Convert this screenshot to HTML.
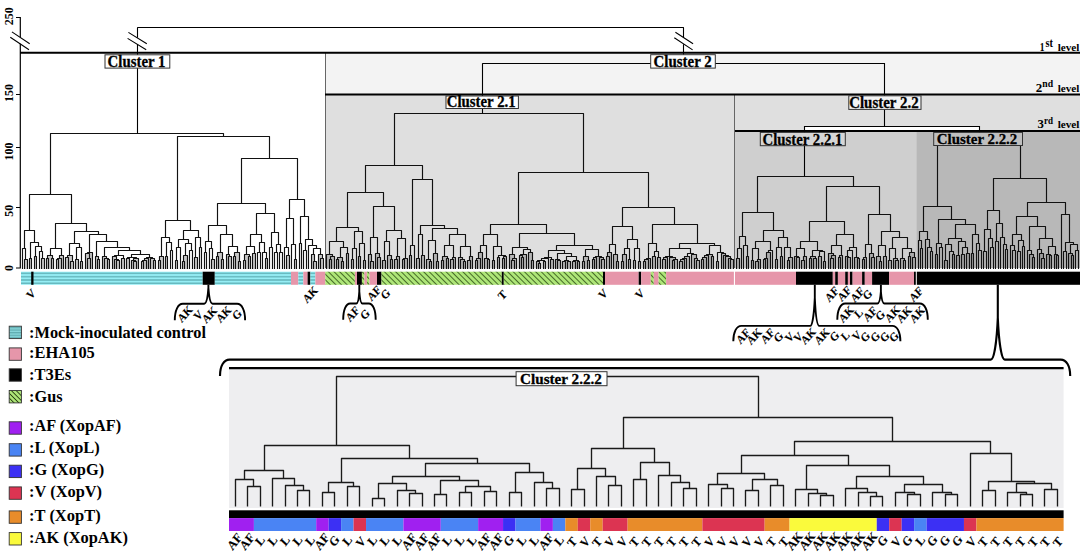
<!DOCTYPE html><html><head><meta charset="utf-8"><style>html,body{margin:0;padding:0;background:#fff;}svg{display:block;}text{font-family:"Liberation Serif",serif;} .s{stroke:#000;stroke-width:0.3px;} .t{stroke:#000;stroke-width:0.12px;}</style></head><body>
<svg width="1083" height="555" viewBox="0 0 1083 555">
<defs>
<pattern id="gus" patternUnits="userSpaceOnUse" width="3.96" height="3.96" patternTransform="rotate(-45)"><rect width="3.96" height="3.96" fill="#aee678"/><rect x="0" y="0" width="0.9" height="3.96" fill="#3a5e20"/></pattern>
<pattern id="mock" patternUnits="userSpaceOnUse" x="0" y="271.7" width="10" height="3.3"><rect width="10" height="3.3" fill="#96eef5"/><rect y="1.0" width="10" height="1.4" fill="#62b4ba"/></pattern>
<pattern id="gusL" patternUnits="userSpaceOnUse" width="3.4" height="3.4" patternTransform="rotate(-45)"><rect width="3.4" height="3.4" fill="#aee678"/><rect x="0" y="0" width="0.9" height="3.4" fill="#243a10"/></pattern>
<pattern id="mockL" patternUnits="userSpaceOnUse" x="0" y="326" width="10" height="2.6"><rect width="10" height="2.6" fill="#8ad8dc"/><rect y="1.0" width="10" height="1.1" fill="#5aa6aa"/></pattern>
</defs>
<rect width="1083" height="555" fill="#fff"/>
<rect x="325" y="53" width="755" height="215" fill="#f3f3f3"/>
<rect x="325" y="94.5" width="755" height="173.5" fill="#dfdfdf"/>
<rect x="735" y="131" width="181.5" height="137" fill="#cfcfcf"/>
<rect x="916.5" y="131" width="163.5" height="137" fill="#b8b8b8"/>
<path d="M325.5 53V268M734.5 94.5V268" stroke="#666" stroke-width="1" fill="none"/>
<rect x="229" y="368" width="834.6" height="140" fill="#eeeef0"/>
<path d="M24.5 259.5H27.5V268.9H24.5ZM29.5 258.5H31.5V268.9H29.5ZM34.5 256.5H36.5V268.9H34.5ZM41.5 258.5H44.5V268.9H41.5ZM46.5 258.5H48.5V268.9H46.5ZM51.5 258.5H53.5V268.9H51.5ZM47.5 255.5H52.5V268.9H47.5ZM56.5 259.5H58.5V268.9H56.5ZM57.5 258.5H61.5V268.9H57.5ZM59.5 255.5H63.5V268.9H59.5ZM65.5 257.5H68.5V268.9H65.5ZM70.5 261.5H73.5V268.9H70.5ZM67.5 255.5H72.5V268.9H67.5ZM75.5 259.5H78.5V268.9H75.5ZM80.5 261.5H82.5V268.9H80.5ZM87.5 258.5H90.5V268.9H87.5ZM85.5 253.5H89.5V268.9H85.5ZM87.5 252.5H92.5V268.9H87.5ZM97.5 259.5H99.5V268.9H97.5ZM95.5 256.5H98.5V268.9H95.5ZM107.5 259.5H109.5V268.9H107.5ZM104.5 258.5H108.5V268.9H104.5ZM102.5 256.5H106.5V268.9H102.5ZM116.5 260.5H119.5V268.9H116.5ZM114.5 259.5H118.5V268.9H114.5ZM112.5 256.5H116.5V268.9H112.5ZM121.5 258.5H124.5V268.9H121.5ZM126.5 258.5H129.5V268.9H126.5ZM133.5 261.5H136.5V268.9H133.5ZM131.5 260.5H135.5V268.9H131.5ZM133.5 258.5H138.5V268.9H133.5ZM141.5 261.5H143.5V268.9H141.5ZM142.5 260.5H146.5V268.9H142.5ZM144.5 258.5H148.5V268.9H144.5ZM153.5 260.5H155.5V268.9H153.5ZM150.5 258.5H154.5V268.9H150.5ZM146.5 257.5H152.5V268.9H146.5ZM158.5 260.5H160.5V268.9H158.5ZM159.5 256.5H163.5V268.9H159.5ZM165.5 256.5H167.5V268.9H165.5ZM175.5 260.5H177.5V268.9H175.5ZM182.5 261.5H184.5V268.9H182.5ZM183.5 255.5H187.5V268.9H183.5ZM194.5 257.5H197.5V268.9H194.5ZM211.5 259.5H214.5V268.9H211.5ZM216.5 256.5H218.5V268.9H216.5ZM221.5 259.5H223.5V268.9H221.5ZM217.5 252.5H222.5V268.9H217.5ZM228.5 256.5H231.5V268.9H228.5ZM226.5 254.5H229.5V268.9H226.5ZM233.5 256.5H235.5V268.9H233.5ZM238.5 261.5H240.5V268.9H238.5ZM234.5 252.5H239.5V268.9H234.5ZM243.5 260.5H245.5V268.9H243.5ZM248.5 256.5H250.5V268.9H248.5ZM244.5 254.5H249.5V268.9H244.5ZM252.5 253.5H255.5V268.9H252.5ZM265.5 258.5H267.5V268.9H265.5ZM286.5 255.5H289.5V268.9H286.5ZM294.5 259.5H296.5V268.9H294.5ZM313.5 261.5H316.5V268.9H313.5ZM311.5 254.5H314.5V268.9H311.5ZM320.5 258.5H323.5V268.9H320.5ZM318.5 254.5H322.5V268.9H318.5ZM329.5 259.5H331.5V268.9H329.5ZM330.5 256.5H334.5V268.9H330.5ZM326.5 254.5H332.5V268.9H326.5ZM336.5 259.5H338.5V268.9H336.5ZM341.5 261.5H343.5V268.9H341.5ZM337.5 257.5H342.5V268.9H337.5ZM346.5 253.5H348.5V268.9H346.5ZM351.5 259.5H353.5V268.9H351.5ZM358.5 256.5H360.5V268.9H358.5ZM363.5 260.5H365.5V268.9H363.5ZM370.5 261.5H373.5V268.9H370.5ZM368.5 254.5H371.5V268.9H368.5ZM377.5 257.5H380.5V268.9H377.5ZM375.5 253.5H379.5V268.9H375.5ZM382.5 260.5H385.5V268.9H382.5ZM390.5 259.5H392.5V268.9H390.5ZM387.5 255.5H391.5V268.9H387.5ZM394.5 259.5H397.5V268.9H394.5ZM396.5 256.5H399.5V268.9H396.5ZM402.5 259.5H404.5V268.9H402.5ZM403.5 258.5H407.5V268.9H403.5ZM409.5 255.5H411.5V268.9H409.5ZM416.5 258.5H419.5V268.9H416.5ZM421.5 255.5H424.5V268.9H421.5ZM429.5 261.5H431.5V268.9H429.5ZM426.5 259.5H430.5V268.9H426.5ZM436.5 261.5H438.5V268.9H436.5ZM433.5 253.5H437.5V268.9H433.5ZM441.5 260.5H443.5V268.9H441.5ZM446.5 258.5H448.5V268.9H446.5ZM442.5 256.5H447.5V268.9H442.5ZM450.5 259.5H453.5V268.9H450.5ZM452.5 257.5H455.5V268.9H452.5ZM463.5 261.5H465.5V268.9H463.5ZM460.5 259.5H464.5V268.9H460.5ZM458.5 257.5H462.5V268.9H458.5ZM467.5 260.5H470.5V268.9H467.5ZM469.5 256.5H472.5V268.9H469.5ZM475.5 260.5H477.5V268.9H475.5ZM476.5 258.5H480.5V268.9H476.5ZM478.5 252.5H482.5V268.9H478.5ZM487.5 259.5H489.5V268.9H487.5ZM484.5 258.5H488.5V268.9H484.5ZM492.5 260.5H494.5V268.9H492.5ZM497.5 257.5H499.5V268.9H497.5ZM502.5 258.5H504.5V268.9H502.5ZM503.5 256.5H506.5V268.9H503.5ZM511.5 260.5H514.5V268.9H511.5ZM512.5 258.5H516.5V268.9H512.5ZM509.5 254.5H514.5V268.9H509.5ZM521.5 257.5H523.5V268.9H521.5ZM519.5 255.5H522.5V268.9H519.5ZM520.5 254.5H526.5V268.9H520.5ZM531.5 260.5H533.5V268.9H531.5ZM528.5 252.5H532.5V268.9H528.5ZM538.5 263.5H540.5V268.9H538.5ZM536.5 261.5H539.5V268.9H536.5ZM543.5 261.5H545.5V268.9H543.5ZM550.5 259.5H553.5V268.9H550.5ZM557.5 260.5H560.5V268.9H557.5ZM555.5 259.5H559.5V268.9H555.5ZM562.5 261.5H565.5V268.9H562.5ZM567.5 261.5H570.5V268.9H567.5ZM564.5 260.5H568.5V268.9H564.5ZM572.5 261.5H575.5V268.9H572.5ZM577.5 261.5H579.5V268.9H577.5ZM573.5 260.5H578.5V268.9H573.5ZM582.5 261.5H584.5V268.9H582.5ZM587.5 260.5H589.5V268.9H587.5ZM583.5 256.5H588.5V268.9H583.5ZM592.5 259.5H594.5V268.9H592.5ZM593.5 257.5H596.5V268.9H593.5ZM601.5 259.5H604.5V268.9H601.5ZM599.5 257.5H603.5V268.9H599.5ZM595.5 256.5H601.5V268.9H595.5ZM606.5 256.5H609.5V268.9H606.5ZM607.5 252.5H611.5V268.9H607.5ZM616.5 261.5H618.5V268.9H616.5ZM613.5 254.5H617.5V268.9H613.5ZM621.5 261.5H623.5V268.9H621.5ZM622.5 254.5H626.5V268.9H622.5ZM628.5 259.5H630.5V268.9H628.5ZM633.5 260.5H635.5V268.9H633.5ZM638.5 261.5H640.5V268.9H638.5ZM643.5 261.5H645.5V268.9H643.5ZM644.5 259.5H648.5V268.9H644.5ZM646.5 258.5H650.5V268.9H646.5ZM652.5 256.5H655.5V268.9H652.5ZM657.5 257.5H660.5V268.9H657.5ZM662.5 259.5H665.5V268.9H662.5ZM663.5 257.5H667.5V268.9H663.5ZM672.5 260.5H674.5V268.9H672.5ZM673.5 259.5H677.5V268.9H673.5ZM669.5 257.5H675.5V268.9H669.5ZM679.5 261.5H682.5V268.9H679.5ZM680.5 259.5H684.5V268.9H680.5ZM682.5 258.5H686.5V268.9H682.5ZM684.5 256.5H689.5V268.9H684.5ZM696.5 260.5H699.5V268.9H696.5ZM694.5 258.5H697.5V268.9H694.5ZM691.5 254.5H696.5V268.9H691.5ZM701.5 259.5H703.5V268.9H701.5ZM702.5 257.5H706.5V268.9H702.5ZM704.5 255.5H708.5V268.9H704.5ZM711.5 256.5H713.5V268.9H711.5ZM706.5 254.5H712.5V268.9H706.5ZM716.5 261.5H718.5V268.9H716.5ZM730.5 259.5H733.5V268.9H730.5ZM728.5 258.5H731.5V268.9H728.5ZM725.5 256.5H730.5V268.9H725.5ZM723.5 255.5H728.5V268.9H723.5ZM721.5 253.5H725.5V268.9H721.5ZM736.5 258.5H739.5V268.9H736.5ZM746.5 256.5H748.5V268.9H746.5ZM751.5 260.5H753.5V268.9H751.5ZM755.5 261.5H758.5V268.9H755.5ZM757.5 259.5H760.5V268.9H757.5ZM763.5 259.5H765.5V268.9H763.5ZM764.5 258.5H767.5V268.9H764.5ZM766.5 252.5H770.5V268.9H766.5ZM775.5 259.5H777.5V268.9H775.5ZM780.5 256.5H782.5V268.9H780.5ZM787.5 260.5H789.5V268.9H787.5ZM788.5 257.5H792.5V268.9H788.5ZM796.5 257.5H799.5V268.9H796.5ZM794.5 256.5H798.5V268.9H794.5ZM801.5 260.5H804.5V268.9H801.5ZM803.5 256.5H806.5V268.9H803.5ZM809.5 258.5H811.5V268.9H809.5ZM813.5 258.5H816.5V268.9H813.5ZM810.5 256.5H815.5V268.9H810.5ZM818.5 256.5H821.5V268.9H818.5ZM823.5 261.5H825.5V268.9H823.5ZM830.5 258.5H833.5V268.9H830.5ZM831.5 255.5H835.5V268.9H831.5ZM828.5 253.5H833.5V268.9H828.5ZM838.5 257.5H840.5V268.9H838.5ZM839.5 255.5H842.5V268.9H839.5ZM847.5 257.5H850.5V268.9H847.5ZM845.5 256.5H848.5V268.9H845.5ZM857.5 258.5H859.5V268.9H857.5ZM854.5 257.5H858.5V268.9H854.5ZM862.5 259.5H864.5V268.9H862.5ZM863.5 257.5H866.5V268.9H863.5ZM871.5 257.5H874.5V268.9H871.5ZM869.5 253.5H873.5V268.9H869.5ZM879.5 261.5H881.5V268.9H879.5ZM876.5 256.5H880.5V268.9H876.5ZM883.5 256.5H886.5V268.9H883.5ZM888.5 260.5H891.5V268.9H888.5ZM895.5 260.5H898.5V268.9H895.5ZM893.5 258.5H897.5V268.9H893.5ZM903.5 260.5H905.5V268.9H903.5ZM900.5 258.5H904.5V268.9H900.5ZM908.5 256.5H910.5V268.9H908.5ZM912.5 257.5H915.5V268.9H912.5ZM909.5 252.5H914.5V268.9H909.5ZM935.5 254.5H937.5V268.9H935.5ZM944.5 260.5H947.5V268.9H944.5ZM952.5 254.5H954.5V268.9H952.5ZM956.5 255.5H959.5V268.9H956.5ZM961.5 254.5H964.5V268.9H961.5ZM966.5 253.5H969.5V268.9H966.5ZM971.5 253.5H973.5V268.9H971.5ZM1032.5 257.5H1034.5V268.9H1032.5ZM1029.5 254.5H1033.5V268.9H1029.5ZM1041.5 258.5H1044.5V268.9H1041.5ZM1039.5 253.5H1043.5V268.9H1039.5ZM1049.5 255.5H1051.5V268.9H1049.5ZM1046.5 254.5H1050.5V268.9H1046.5ZM1056.5 255.5H1058.5V268.9H1056.5ZM1054.5 254.5H1057.5V268.9H1054.5ZM1071.5 255.5H1073.5V268.9H1071.5ZM1068.5 253.5H1072.5V268.9H1068.5Z" fill="#777" fill-opacity="0.4"/>
<rect x="804.8" y="126" width="174.2" height="4" fill="#fff"/>
<path d="M24.5 268.9V259.5H27.5V268.9M22.5 268.9V248.5H25.5V259.1M29.5 268.9V258.5H31.5V268.9M34.5 268.9V256.5H36.5V268.9M41.5 268.9V258.5H44.5V268.9M39.5 268.9V251.5H42.5V259.0M35.5 256.6V246.5H41.5V251.0M30.5 258.3V242.5H38.5V246.5M24.5 248.5V230.5H34.5V242.7M46.5 268.9V258.5H48.5V268.9M51.5 268.9V258.5H53.5V268.9M47.5 258.7V255.5H52.5V258.3M56.5 268.9V259.5H58.5V268.9M57.5 259.7V258.5H61.5V268.9M59.5 258.2V255.5H63.5V268.9M50.5 255.0V248.5H61.5V255.0M65.5 268.9V257.5H68.5V268.9M70.5 268.9V261.5H73.5V268.9M67.5 257.1V255.5H72.5V261.1M75.5 268.9V259.5H78.5V268.9M80.5 268.9V261.5H82.5V268.9M76.5 259.9V247.5H81.5V261.2M69.5 255.3V243.5H79.5V247.2M87.5 268.9V258.5H90.5V268.9M85.5 268.9V253.5H89.5V258.2M87.5 253.6V252.5H92.5V268.9M97.5 268.9V259.5H99.5V268.9M95.5 268.9V256.5H98.5V259.0M107.5 268.9V259.5H109.5V268.9M104.5 268.9V258.5H108.5V259.5M102.5 268.9V256.5H106.5V258.0M116.5 268.9V260.5H119.5V268.9M114.5 268.9V259.5H118.5V260.7M112.5 268.9V256.5H116.5V259.2M121.5 268.9V258.5H124.5V268.9M114.5 256.5V255.5H123.5V258.2M126.5 268.9V258.5H129.5V268.9M133.5 268.9V261.5H136.5V268.9M131.5 268.9V260.5H135.5V261.5M133.5 260.0V258.5H138.5V268.9M127.5 258.5V257.5H136.5V258.5M141.5 268.9V261.5H143.5V268.9M142.5 261.5V260.5H146.5V268.9M144.5 260.0V258.5H148.5V268.9M153.5 268.9V260.5H155.5V268.9M150.5 268.9V258.5H154.5V260.0M146.5 258.5V257.5H152.5V258.5M131.5 257.0V254.5H149.5V257.0M118.5 255.0V250.5H140.5V254.3M104.5 256.5V247.5H129.5V250.4M96.5 256.1V241.5H117.5V247.6M89.5 252.1V234.5H106.5V241.1M74.5 243.7V231.5H98.5V234.6M55.5 248.5V223.5H86.5V231.4M29.5 230.0V194.5H71.5V223.3M158.5 268.9V260.5H160.5V268.9M159.5 260.4V256.5H163.5V268.9M165.5 268.9V256.5H167.5V268.9M170.5 268.9V250.5H172.5V268.9M166.5 256.2V242.5H171.5V250.4M161.5 256.6V237.5H169.5V242.9M175.5 268.9V260.5H177.5V268.9M176.5 260.0V247.5H180.5V268.9M182.5 268.9V261.5H184.5V268.9M183.5 261.3V255.5H187.5V268.9M189.5 268.9V250.5H192.5V268.9M185.5 255.0V243.5H191.5V250.2M178.5 247.8V239.5H188.5V243.6M194.5 268.9V257.5H197.5V268.9M199.5 268.9V247.5H201.5V268.9M195.5 257.4V237.5H200.5V247.2M183.5 239.4V230.5H198.5V237.2M165.5 237.7V220.5H190.5V230.6M204.5 268.9V252.5H206.5V268.9M211.5 268.9V259.5H214.5V268.9M209.5 268.9V248.5H212.5V259.4M205.5 252.0V241.5H211.5V248.1M216.5 268.9V256.5H218.5V268.9M221.5 268.9V259.5H223.5V268.9M217.5 256.7V252.5H222.5V259.4M228.5 268.9V256.5H231.5V268.9M226.5 268.9V254.5H229.5V256.1M233.5 268.9V256.5H235.5V268.9M238.5 268.9V261.5H240.5V268.9M234.5 256.7V252.5H239.5V261.7M228.5 254.3V246.5H237.5V252.7M220.5 252.7V234.5H232.5V246.3M208.5 241.1V225.5H226.5V234.6M243.5 268.9V260.5H245.5V268.9M248.5 268.9V256.5H250.5V268.9M244.5 260.5V254.5H249.5V256.4M252.5 268.9V253.5H255.5V268.9M246.5 254.0V246.5H254.5V253.0M257.5 268.9V252.5H260.5V268.9M265.5 268.9V258.5H267.5V268.9M262.5 268.9V252.5H266.5V259.0M259.5 252.0V242.5H264.5V252.0M250.5 246.5V234.5H261.5V242.0M269.5 268.9V247.5H272.5V268.9M274.5 268.9V252.5H277.5V268.9M279.5 268.9V252.5H282.5V268.9M276.5 252.0V244.5H280.5V252.0M271.5 247.8V232.5H278.5V244.6M256.5 234.9V213.5H274.5V232.3M217.5 225.5V203.5H265.5V213.3M286.5 268.9V255.5H289.5V268.9M284.5 268.9V247.5H288.5V256.0M294.5 268.9V259.5H296.5V268.9M291.5 268.9V244.5H295.5V259.4M286.5 247.8V218.5H293.5V244.6M299.5 268.9V243.5H301.5V268.9M303.5 268.9V250.5H306.5V268.9M313.5 268.9V261.5H316.5V268.9M311.5 268.9V254.5H314.5V261.3M320.5 268.9V258.5H323.5V268.9M318.5 268.9V254.5H322.5V258.0M313.5 254.0V248.5H320.5V254.3M308.5 268.9V245.5H316.5V248.5M305.5 250.0V239.5H312.5V245.5M300.5 243.3V216.5H308.5V239.4M289.5 218.7V199.5H304.5V216.2M241.5 203.6V158.5H297.5V199.7M177.5 220.4V136.5H269.5V158.6M50.5 194.4V133.5H223.5V136.6M329.5 268.9V259.5H331.5V268.9M330.5 259.7V256.5H334.5V268.9M326.5 268.9V254.5H332.5V256.4M336.5 268.9V259.5H338.5V268.9M341.5 268.9V261.5H343.5V268.9M337.5 259.9V257.5H342.5V261.6M346.5 268.9V253.5H348.5V268.9M340.5 257.8V247.5H347.5V253.0M329.5 254.9V241.5H343.5V247.8M351.5 268.9V259.5H353.5V268.9M352.5 259.3V248.5H356.5V268.9M358.5 268.9V256.5H360.5V268.9M363.5 268.9V260.5H365.5V268.9M359.5 256.3V243.5H364.5V260.9M354.5 248.5V231.5H362.5V243.3M336.5 241.6V227.5H358.5V231.3M370.5 268.9V261.5H373.5V268.9M368.5 268.9V254.5H371.5V261.3M377.5 268.9V257.5H380.5V268.9M375.5 268.9V253.5H379.5V257.7M370.5 254.2V237.5H377.5V253.5M382.5 268.9V260.5H385.5V268.9M390.5 268.9V259.5H392.5V268.9M387.5 268.9V255.5H391.5V259.2M384.5 260.6V241.5H389.5V255.7M394.5 268.9V259.5H397.5V268.9M396.5 259.2V256.5H399.5V268.9M402.5 268.9V259.5H404.5V268.9M403.5 259.5V258.5H407.5V268.9M397.5 256.7V238.5H405.5V258.0M386.5 241.6V230.5H401.5V238.8M373.5 237.5V206.5H394.5V230.0M347.5 227.1V192.5H383.5V206.6M409.5 268.9V255.5H411.5V268.9M410.5 256.0V245.5H414.5V268.9M416.5 268.9V258.5H419.5V268.9M421.5 268.9V255.5H424.5V268.9M418.5 258.2V234.5H422.5V255.9M429.5 268.9V261.5H431.5V268.9M426.5 268.9V259.5H430.5V261.0M436.5 268.9V261.5H438.5V268.9M433.5 268.9V253.5H437.5V261.5M428.5 259.5V240.5H435.5V253.0M441.5 268.9V260.5H443.5V268.9M446.5 268.9V258.5H448.5V268.9M442.5 260.2V256.5H447.5V258.4M450.5 268.9V259.5H453.5V268.9M452.5 259.4V257.5H455.5V268.9M444.5 256.9V245.5H453.5V257.1M463.5 268.9V261.5H465.5V268.9M460.5 268.9V259.5H464.5V261.6M458.5 268.9V257.5H462.5V259.0M467.5 268.9V260.5H470.5V268.9M469.5 261.0V256.5H472.5V268.9M460.5 257.5V246.5H470.5V256.8M449.5 245.0V234.5H465.5V246.0M432.5 240.0V228.5H457.5V234.8M420.5 234.8V225.5H444.5V228.7M412.5 245.5V179.5H432.5V225.0M365.5 192.5V165.5H422.5V179.7M475.5 268.9V260.5H477.5V268.9M476.5 260.6V258.5H480.5V268.9M478.5 258.6V252.5H482.5V268.9M487.5 268.9V259.5H489.5V268.9M484.5 268.9V258.5H488.5V260.0M480.5 252.9V245.5H486.5V258.5M492.5 268.9V260.5H494.5V268.9M497.5 268.9V257.5H499.5V268.9M502.5 268.9V258.5H504.5V268.9M503.5 258.2V256.5H506.5V268.9M498.5 257.7V255.5H505.5V256.6M493.5 260.2V246.5H501.5V255.1M483.5 245.0V234.5H497.5V246.0M511.5 268.9V260.5H514.5V268.9M512.5 260.3V258.5H516.5V268.9M509.5 268.9V254.5H514.5V258.8M521.5 268.9V257.5H523.5V268.9M519.5 268.9V255.5H522.5V257.4M520.5 255.9V254.5H526.5V268.9M531.5 268.9V260.5H533.5V268.9M528.5 268.9V252.5H532.5V260.4M523.5 254.4V249.5H530.5V252.1M512.5 254.4V247.5H527.5V249.0M538.5 268.9V263.5H540.5V268.9M536.5 268.9V261.5H539.5V263.0M543.5 268.9V261.5H545.5V268.9M537.5 261.5V260.5H544.5V261.5M541.5 260.0V258.5H548.5V268.9M550.5 268.9V259.5H553.5V268.9M544.5 258.5V257.5H551.5V259.3M557.5 268.9V260.5H560.5V268.9M555.5 268.9V259.5H559.5V260.5M562.5 268.9V261.5H565.5V268.9M567.5 268.9V261.5H570.5V268.9M564.5 261.5V260.5H568.5V261.5M572.5 268.9V261.5H575.5V268.9M577.5 268.9V261.5H579.5V268.9M573.5 261.5V260.5H578.5V261.5M566.5 260.0V256.5H576.5V260.0M557.5 259.0V253.5H571.5V256.0M548.5 257.0V250.5H564.5V253.8M582.5 268.9V261.5H584.5V268.9M587.5 268.9V260.5H589.5V268.9M583.5 261.2V256.5H588.5V260.9M592.5 268.9V259.5H594.5V268.9M593.5 259.0V257.5H596.5V268.9M601.5 268.9V259.5H604.5V268.9M599.5 268.9V257.5H603.5V259.0M595.5 257.5V256.5H601.5V257.5M585.5 256.0V249.5H598.5V256.0M556.5 250.8V245.5H592.5V249.4M519.5 247.5V233.5H574.5V245.4M490.5 234.8V224.5H546.5V233.1M606.5 268.9V256.5H609.5V268.9M607.5 256.4V252.5H611.5V268.9M616.5 268.9V261.5H618.5V268.9M613.5 268.9V254.5H617.5V261.6M609.5 252.5V244.5H615.5V254.2M621.5 268.9V261.5H623.5V268.9M622.5 261.3V254.5H626.5V268.9M628.5 268.9V259.5H630.5V268.9M624.5 254.7V248.5H629.5V259.9M633.5 268.9V260.5H635.5V268.9M638.5 268.9V261.5H640.5V268.9M634.5 260.9V248.5H639.5V261.3M627.5 248.0V239.5H637.5V248.0M612.5 244.5V226.5H632.5V239.3M643.5 268.9V261.5H645.5V268.9M644.5 261.0V259.5H648.5V268.9M646.5 259.5V258.5H650.5V268.9M652.5 268.9V256.5H655.5V268.9M657.5 268.9V257.5H660.5V268.9M654.5 256.4V251.5H658.5V257.4M648.5 258.0V243.5H656.5V251.0M662.5 268.9V259.5H665.5V268.9M663.5 259.6V257.5H667.5V268.9M672.5 268.9V260.5H674.5V268.9M673.5 260.5V259.5H677.5V268.9M669.5 268.9V257.5H675.5V259.0M665.5 257.5V256.5H672.5V257.5M679.5 268.9V261.5H682.5V268.9M680.5 261.3V259.5H684.5V268.9M682.5 259.8V258.5H686.5V268.9M684.5 258.3V256.5H689.5V268.9M696.5 268.9V260.5H699.5V268.9M694.5 268.9V258.5H697.5V260.5M691.5 268.9V254.5H696.5V259.0M687.5 256.8V253.5H693.5V254.5M669.5 256.0V248.5H690.5V253.0M701.5 268.9V259.5H703.5V268.9M702.5 259.1V257.5H706.5V268.9M704.5 257.1V255.5H708.5V268.9M711.5 268.9V256.5H713.5V268.9M706.5 255.5V254.5H712.5V256.8M716.5 268.9V261.5H718.5V268.9M730.5 268.9V259.5H733.5V268.9M728.5 268.9V258.5H731.5V259.5M725.5 268.9V256.5H730.5V258.0M723.5 268.9V255.5H728.5V256.5M721.5 268.9V253.5H725.5V255.0M717.5 261.2V252.5H723.5V253.5M709.5 254.0V245.5H720.5V252.0M679.5 248.4V243.5H714.5V245.3M652.5 243.2V224.5H697.5V243.2M622.5 226.1V207.5H674.5V224.9M518.5 224.6V172.5H648.5V207.1M394.5 165.0V113.5H583.5V172.5M736.5 268.9V258.5H739.5V268.9M737.5 258.1V248.5H741.5V268.9M746.5 268.9V256.5H748.5V268.9M743.5 268.9V245.5H747.5V256.3M739.5 248.0V236.5H745.5V245.0M751.5 268.9V260.5H753.5V268.9M755.5 268.9V261.5H758.5V268.9M757.5 261.1V259.5H760.5V268.9M752.5 260.2V248.5H758.5V259.6M763.5 268.9V259.5H765.5V268.9M764.5 259.8V258.5H767.5V268.9M766.5 258.3V252.5H770.5V268.9M768.5 252.6V250.5H772.5V268.9M755.5 248.0V241.5H770.5V250.0M775.5 268.9V259.5H777.5V268.9M780.5 268.9V256.5H782.5V268.9M776.5 259.1V247.5H781.5V256.5M787.5 268.9V260.5H789.5V268.9M788.5 260.5V257.5H792.5V268.9M784.5 268.9V247.5H790.5V257.1M778.5 247.0V237.5H787.5V247.0M763.5 241.6V230.5H783.5V237.0M742.5 236.2V212.5H773.5V230.8M796.5 268.9V257.5H799.5V268.9M794.5 268.9V256.5H798.5V257.8M801.5 268.9V260.5H804.5V268.9M803.5 260.5V256.5H806.5V268.9M796.5 256.3V248.5H804.5V256.7M809.5 268.9V258.5H811.5V268.9M813.5 268.9V258.5H816.5V268.9M810.5 258.5V256.5H815.5V258.5M818.5 268.9V256.5H821.5V268.9M823.5 268.9V261.5H825.5V268.9M819.5 256.9V251.5H824.5V261.0M812.5 257.0V250.5H822.5V251.7M800.5 248.0V241.5H817.5V250.0M830.5 268.9V258.5H833.5V268.9M831.5 258.0V255.5H835.5V268.9M828.5 268.9V253.5H833.5V255.4M838.5 268.9V257.5H840.5V268.9M839.5 257.5V255.5H842.5V268.9M831.5 253.9V245.5H841.5V255.8M847.5 268.9V257.5H850.5V268.9M845.5 268.9V256.5H848.5V257.6M847.5 256.1V250.5H852.5V268.9M857.5 268.9V258.5H859.5V268.9M854.5 268.9V257.5H858.5V259.0M849.5 250.5V247.5H856.5V257.5M836.5 245.0V234.5H853.5V247.0M809.5 241.1V221.5H844.5V234.0M862.5 268.9V259.5H864.5V268.9M863.5 259.9V257.5H866.5V268.9M871.5 268.9V257.5H874.5V268.9M869.5 268.9V253.5H873.5V258.0M865.5 257.5V244.5H871.5V253.5M879.5 268.9V261.5H881.5V268.9M876.5 268.9V256.5H880.5V261.6M883.5 268.9V256.5H886.5V268.9M878.5 256.5V245.5H885.5V256.8M888.5 268.9V260.5H891.5V268.9M895.5 268.9V260.5H898.5V268.9M893.5 268.9V258.5H897.5V260.1M889.5 260.3V248.5H895.5V258.6M903.5 268.9V260.5H905.5V268.9M900.5 268.9V258.5H904.5V260.3M908.5 268.9V256.5H910.5V268.9M912.5 268.9V257.5H915.5V268.9M909.5 256.1V252.5H914.5V257.7M902.5 258.8V248.5H911.5V252.2M892.5 248.0V237.5H907.5V248.0M881.5 245.0V231.5H899.5V237.0M868.5 244.3V214.5H890.5V231.6M826.5 221.9V186.5H879.5V214.6M757.5 212.7V176.5H853.5V186.8M920.5 268.9V248.5H922.5V268.9M918.5 268.9V240.5H921.5V248.3M930.5 268.9V251.5H932.5V268.9M927.5 268.9V247.5H931.5V251.9M925.5 268.9V239.5H929.5V247.2M919.5 240.4V231.5H927.5V239.8M935.5 268.9V254.5H937.5V268.9M939.5 268.9V247.5H942.5V268.9M936.5 254.0V243.5H941.5V247.9M944.5 268.9V260.5H947.5V268.9M952.5 268.9V254.5H954.5V268.9M949.5 268.9V251.5H953.5V254.7M945.5 260.0V244.5H951.5V251.5M956.5 268.9V255.5H959.5V268.9M961.5 268.9V254.5H964.5V268.9M966.5 268.9V253.5H969.5V268.9M962.5 254.2V247.5H967.5V253.2M958.5 255.7V241.5H965.5V247.9M948.5 244.5V238.5H961.5V241.9M971.5 268.9V253.5H973.5V268.9M978.5 268.9V250.5H981.5V268.9M976.5 268.9V243.5H979.5V250.0M972.5 253.6V234.5H978.5V243.4M955.5 238.3V224.5H975.5V234.1M938.5 243.6V219.5H965.5V224.9M923.5 231.9V206.5H951.5V219.6M983.5 268.9V251.5H986.5V268.9M990.5 268.9V247.5H993.5V268.9M988.5 268.9V238.5H992.5V247.3M984.5 251.1V229.5H990.5V238.3M995.5 268.9V241.5H998.5V268.9M1005.5 268.9V249.5H1007.5V268.9M1003.5 268.9V244.5H1006.5V249.8M1000.5 268.9V237.5H1004.5V244.0M996.5 241.0V223.5H1002.5V237.1M987.5 229.5V210.5H999.5V223.7M1012.5 268.9V250.5H1015.5V268.9M1010.5 268.9V245.5H1014.5V250.3M1017.5 268.9V251.5H1020.5V268.9M1022.5 268.9V246.5H1024.5V268.9M1018.5 251.4V240.5H1023.5V246.4M1012.5 245.7V234.5H1021.5V240.4M1032.5 268.9V257.5H1034.5V268.9M1029.5 268.9V254.5H1033.5V257.1M1027.5 268.9V250.5H1031.5V254.6M1041.5 268.9V258.5H1044.5V268.9M1039.5 268.9V253.5H1043.5V258.2M1037.5 268.9V249.5H1041.5V253.8M1049.5 268.9V255.5H1051.5V268.9M1046.5 268.9V254.5H1050.5V255.4M1056.5 268.9V255.5H1058.5V268.9M1054.5 268.9V254.5H1057.5V255.9M1048.5 254.2V246.5H1055.5V254.2M1039.5 249.6V238.5H1052.5V246.3M1029.5 250.4V226.5H1045.5V238.0M1016.5 234.6V216.5H1037.5V226.7M1063.5 268.9V251.5H1066.5V268.9M1071.5 268.9V255.5H1073.5V268.9M1068.5 268.9V253.5H1072.5V255.6M1075.5 268.9V250.5H1078.5V268.9M1070.5 253.7V244.5H1077.5V250.9M1065.5 251.4V242.5H1073.5V244.9M1061.5 268.9V214.5H1069.5V242.5M1027.5 216.7V202.5H1065.5V214.5M993.5 210.3V178.5H1046.5V202.5M937.5 206.9V138.5H1020.5V178.9" stroke="#111" stroke-width="1.15" fill="none" stroke-linejoin="round"/>
<path d="M247.5 506.6V486.5H260.5V506.6M235.5 506.6V479.5H253.5V486.9M297.5 506.6V490.5H309.5V506.6M285.5 506.6V485.5H303.5V490.5M272.5 506.6V478.5H294.5V485.8M244.5 479.0V470.5H283.5V478.4M322.5 506.6V492.5H334.5V506.6M347.5 506.6V486.5H359.5V506.6M328.5 492.6V482.5H353.5V486.5M372.5 506.6V498.5H384.5V506.6M409.5 506.6V493.5H422.5V506.6M397.5 506.6V490.5H415.5V493.3M378.5 498.6V483.5H406.5V490.1M434.5 506.6V494.5H446.5V506.6M459.5 506.6V492.5H471.5V506.6M484.5 506.6V491.5H496.5V506.6M465.5 492.8V486.5H490.5V491.8M440.5 494.3V480.5H478.5V486.5M392.5 483.1V476.5H459.5V480.5M509.5 506.6V492.5H521.5V506.6M546.5 506.6V488.5H559.5V506.6M534.5 506.6V482.5H552.5V488.6M515.5 492.2V472.5H543.5V482.0M425.5 476.9V463.5H529.5V472.7M341.5 482.2V458.5H477.5V463.5M264.5 470.5V445.5H409.5V458.2M571.5 506.6V489.5H584.5V506.6M608.5 506.6V485.5H621.5V506.6M596.5 506.6V476.5H615.5V485.9M577.5 489.7V468.5H605.5V476.9M633.5 506.6V479.5H646.5V506.6M683.5 506.6V488.5H696.5V506.6M671.5 506.6V482.5H689.5V488.4M658.5 506.6V475.5H680.5V482.6M640.5 479.6V462.5H669.5V475.7M591.5 468.1V448.5H654.5V462.3M721.5 506.6V488.5H733.5V506.6M708.5 506.6V484.5H727.5V488.9M745.5 506.6V490.5H758.5V506.6M770.5 506.6V485.5H783.5V506.6M752.5 490.0V479.5H777.5V485.0M717.5 484.3V473.5H764.5V479.0M820.5 506.6V495.5H833.5V506.6M808.5 506.6V493.5H826.5V495.7M795.5 506.6V489.5H817.5V493.2M870.5 506.6V496.5H882.5V506.6M858.5 506.6V492.5H876.5V496.8M845.5 506.6V488.5H867.5V492.4M907.5 506.6V494.5H920.5V506.6M895.5 506.6V492.5H914.5V494.0M945.5 506.6V494.5H957.5V506.6M932.5 506.6V492.5H951.5V494.5M904.5 492.8V484.5H942.5V492.8M856.5 488.2V476.5H923.5V484.9M806.5 489.0V465.5H889.5V476.6M741.5 473.2V455.5H848.5V465.3M982.5 506.6V490.5H995.5V506.6M1020.5 506.6V494.5H1032.5V506.6M1007.5 506.6V492.5H1026.5V494.2M1044.5 506.6V489.5H1057.5V506.6M1016.5 492.3V483.5H1051.5V489.5M988.5 490.0V481.5H1034.5V483.5M970.5 506.6V453.5H1011.5V481.1M794.5 455.3V441.5H990.5V453.1M623.5 448.9V417.5H892.5V441.1M336.5 445.5V376.5H758.5V417.5" stroke="#1a1a1a" stroke-width="1.35" fill="none" stroke-linejoin="round"/>
<path d="M137.2 27.5H683.9M137.5 27.8V37.7M137.5 44.1V133.5M683.5 27.8V37.8M683.5 44.2V63.3M482.5 63.5H884.9M482.5 63.3V113.2M884.5 63.3V126.0M804.8 126.5H979.0M804.5 126.0V176.0M979.5 126.0V138.0" stroke="#000" stroke-width="1.1" fill="none"/>
<path d="M20.3 17V37.3M20.3 43.7V268.5M16 17.5H20.3M16 94.5H20.3M16 147.5H20.3M16 207.5H20.3M16 268H20.3" stroke="#000" stroke-width="1.2" fill="none"/>
<path d="M11.9 31.9L29.7 43.8M10.3 37.3L29 49.7M128.4 32.4L146.8 43.8M127.6 38.4L146.2 49.7M675.4 32.2L693.1 43.8M674.3 37.7L692.6 49.9" stroke="#000" stroke-width="1.1" fill="none"/>
<path d="M20 52.7H1080M325 94.5H1080M735 131H1080" stroke="#000" stroke-width="2.1" fill="none"/>
<text transform="translate(13.3 16.2) rotate(-90)" text-anchor="middle" font-size="12" font-weight="bold">250</text>
<text transform="translate(13.3 93.0) rotate(-90)" text-anchor="middle" font-size="12" font-weight="bold">150</text>
<text transform="translate(13.3 151.6) rotate(-90)" text-anchor="middle" font-size="12" font-weight="bold">100</text>
<text transform="translate(13.3 210.7) rotate(-90)" text-anchor="middle" font-size="12" font-weight="bold">50</text>
<text transform="translate(13.3 268.0) rotate(-90)" text-anchor="middle" font-size="12" font-weight="bold">0</text>
<text transform="matrix(0.8004 0 0 1 1039.74 50.70)" font-size="11.82" font-weight="bold" fill="#000">1</text>
<text transform="matrix(0.8550 0 0 1 1045.59 46.50)" font-size="12.04" font-weight="bold" fill="#000">st</text>
<text transform="matrix(1.0225 0 0 1 1057.68 50.70)" font-size="10.94" font-weight="bold" fill="#000">level</text>
<text transform="matrix(1.1010 0 0 1 1035.68 91.60)" font-size="11.82" font-weight="bold" fill="#000">2</text>
<text transform="matrix(0.9888 0 0 1 1042.36 87.30)" font-size="9.78" font-weight="bold" fill="#000">nd</text>
<text transform="matrix(1.0225 0 0 1 1057.68 91.60)" font-size="10.94" font-weight="bold" fill="#000">level</text>
<text transform="matrix(1.0751 0 0 1 1037.49 128.30)" font-size="11.82" font-weight="bold" fill="#000">3</text>
<text transform="matrix(0.9214 0 0 1 1044.07 124.00)" font-size="9.78" font-weight="bold" fill="#000">rd</text>
<text transform="matrix(1.0225 0 0 1 1057.68 128.30)" font-size="10.94" font-weight="bold" fill="#000">level</text>
<rect x="105.0" y="54.8" width="64.8" height="13.3" fill="#fff" stroke="#333" stroke-width="1"/>
<text transform="matrix(0.8970 0 0 1 107.56 67.00)" font-size="16.55" font-weight="bold" fill="#000" class="s">Cluster 1</text>
<rect x="650.7" y="54.7" width="64.6" height="13.4" fill="#fff" stroke="#333" stroke-width="1"/>
<text transform="matrix(0.9181 0 0 1 653.55 67.00)" font-size="16.26" font-weight="bold" fill="#000" class="s">Cluster 2</text>
<rect x="446.0" y="96.0" width="72.4" height="12.5" fill="#fff" stroke="#333" stroke-width="1"/>
<text transform="matrix(0.9373 0 0 1 446.76 107.30)" font-size="15.83" font-weight="bold" fill="#000" class="s">Cluster 2.1</text>
<rect x="848.8" y="95.8" width="72.2" height="13.6" fill="#f4f4f4" stroke="#333" stroke-width="1"/>
<text transform="matrix(0.9115 0 0 1 849.15 107.70)" font-size="16.40" font-weight="bold" fill="#000" class="s">Cluster 2.2</text>
<rect x="760.3" y="132.4" width="85.0" height="13.3" fill="#d6d6d6" stroke="#333" stroke-width="1"/>
<text transform="matrix(0.8650 0 0 1 762.56 144.70)" font-size="17.12" font-weight="bold" fill="#000" class="s">Cluster 2.2.1</text>
<rect x="933.7" y="132.4" width="88.8" height="13.1" fill="#bfbfbf" stroke="#333" stroke-width="1"/>
<text transform="matrix(0.9685 0 0 1 936.85 144.00)" font-size="15.40" font-weight="bold" fill="#000" class="s">Cluster 2.2.2</text>
<rect x="21.0" y="271.7" width="181.7" height="13.1" fill="url(#mock)"/>
<rect x="202.7" y="271.7" width="12.1" height="13.1" fill="#000"/>
<rect x="214.8" y="271.7" width="76.2" height="13.1" fill="url(#mock)"/>
<rect x="291.0" y="271.7" width="7.3" height="13.1" fill="#e696aa"/>
<rect x="298.3" y="271.7" width="5.0" height="13.1" fill="url(#mock)"/>
<rect x="303.3" y="271.7" width="4.3" height="13.1" fill="#e696aa"/>
<rect x="307.6" y="271.7" width="2.8" height="13.1" fill="#000"/>
<rect x="310.4" y="271.7" width="5.0" height="13.1" fill="url(#mock)"/>
<rect x="315.4" y="271.7" width="9.9" height="13.1" fill="#e696aa"/>
<rect x="325.3" y="271.7" width="29.6" height="13.1" fill="url(#gus)"/>
<rect x="354.9" y="271.7" width="2.1" height="13.1" fill="#e696aa"/>
<rect x="357.0" y="271.7" width="4.9" height="13.1" fill="#000"/>
<rect x="361.9" y="271.7" width="2.6" height="13.1" fill="url(#gus)"/>
<rect x="364.5" y="271.7" width="2.4" height="13.1" fill="#e696aa"/>
<rect x="366.9" y="271.7" width="2.6" height="13.1" fill="url(#gus)"/>
<rect x="369.5" y="271.7" width="7.5" height="13.1" fill="#e696aa"/>
<rect x="377.0" y="271.7" width="4.5" height="13.1" fill="#000"/>
<rect x="381.5" y="271.7" width="120.3" height="13.1" fill="url(#gus)"/>
<rect x="501.8" y="271.7" width="2.0" height="13.1" fill="#000"/>
<rect x="503.8" y="271.7" width="99.2" height="13.1" fill="url(#gus)"/>
<rect x="603.0" y="271.7" width="2.0" height="13.1" fill="#000"/>
<rect x="605.0" y="271.7" width="33.7" height="13.1" fill="#e696aa"/>
<rect x="638.7" y="271.7" width="2.5" height="13.1" fill="#000"/>
<rect x="641.2" y="271.7" width="9.6" height="13.1" fill="#e696aa"/>
<rect x="650.8" y="271.7" width="3.0" height="13.1" fill="url(#gus)"/>
<rect x="653.8" y="271.7" width="4.8" height="13.1" fill="#e696aa"/>
<rect x="658.6" y="271.7" width="7.5" height="13.1" fill="url(#gus)"/>
<rect x="666.1" y="271.7" width="67.8" height="13.1" fill="#e696aa"/>
<rect x="735.0" y="271.7" width="61.0" height="13.1" fill="#e696aa"/>
<rect x="796.0" y="271.7" width="36.8" height="13.1" fill="#000"/>
<rect x="832.8" y="271.7" width="2.4" height="13.1" fill="#e696aa"/>
<rect x="835.2" y="271.7" width="2.7" height="13.1" fill="#000"/>
<rect x="837.9" y="271.7" width="7.3" height="13.1" fill="#e696aa"/>
<rect x="845.2" y="271.7" width="2.7" height="13.1" fill="#000"/>
<rect x="847.9" y="271.7" width="2.1" height="13.1" fill="#e696aa"/>
<rect x="850.0" y="271.7" width="2.6" height="13.1" fill="#000"/>
<rect x="852.6" y="271.7" width="9.5" height="13.1" fill="#e696aa"/>
<rect x="862.1" y="271.7" width="2.7" height="13.1" fill="#000"/>
<rect x="864.8" y="271.7" width="7.3" height="13.1" fill="#e696aa"/>
<rect x="872.1" y="271.7" width="17.0" height="13.1" fill="#000"/>
<rect x="889.1" y="271.7" width="24.9" height="13.1" fill="#e696aa"/>
<rect x="914.0" y="271.7" width="1.8" height="13.1" fill="#000"/>
<rect x="916.8" y="271.7" width="163.2" height="13.1" fill="#000"/>
<rect x="31.2" y="271.7" width="2.3" height="13.1" fill="#000"/>
<path d="M174.8 320.2C174.8 310.4 178.0 303.8 182.8 303.8L204.2 303.8C206.3 303.8 207.8 296.6 208.4 287.8L208.4 284.8M208.4 287.8C209.0 296.6 210.5 303.8 212.6 303.8L237.1 303.8C241.9 303.8 245.1 310.4 245.1 320.2" stroke="#000" stroke-width="1.9" fill="none"/>
<path d="M343.2 319.8C343.2 310.0 346.0 303.5 350.2 303.5L356.3 303.5C357.8 303.5 358.9 298.1 359.3 291.5L359.3 284.8M359.3 291.5C359.8 298.1 360.8 303.5 362.3 303.5L368.7 303.5C372.9 303.5 375.7 310.0 375.7 319.8" stroke="#000" stroke-width="1.9" fill="none"/>
<path d="M837.3 319.7C837.3 310.0 840.5 303.5 845.3 303.5L877.4 303.5C879.1 303.5 880.4 298.1 880.9 291.5L880.9 284.8M880.9 291.5C881.4 298.1 882.6 303.5 884.4 303.5L919.8 303.5C924.6 303.5 927.8 310.0 927.8 319.7" stroke="#000" stroke-width="1.9" fill="none"/>
<path d="M733.3 341.3C733.3 332.1 736.5 325.9 741.3 325.9L810.3 325.9C812.5 325.9 814.1 313.3 814.8 297.9L814.8 284.8M814.8 297.9C815.5 313.3 817.0 325.9 819.3 325.9L892.4 325.9C897.2 325.9 900.4 332.1 900.4 341.3" stroke="#000" stroke-width="1.9" fill="none"/>
<path d="M220.0 375.9C220.0 366.1 223.8 359.6 229.5 359.6L990.8 359.6C994.3 359.6 996.8 340.7 997.8 317.6L997.8 284.8M997.8 317.6C998.8 340.7 1001.3 359.6 1004.8 359.6L1060.7 359.6C1066.4 359.6 1070.2 366.1 1070.2 375.9" stroke="#000" stroke-width="2.1" fill="none"/>
<text class="t" transform="translate(30.9 293.9) scale(0.90 1) rotate(-45)" text-anchor="middle" dominant-baseline="central" font-size="12.0" font-weight="bold">V</text>
<text class="t" transform="translate(310.0 294.5) scale(0.90 1) rotate(-45)" text-anchor="middle" dominant-baseline="central" font-size="12.0" font-weight="bold">AK</text>
<text class="t" transform="translate(184.7 313.8) scale(0.90 1) rotate(-45)" text-anchor="middle" dominant-baseline="central" font-size="12.0" font-weight="bold">AK</text>
<text class="t" transform="translate(198.2 315.1) scale(0.90 1) rotate(-45)" text-anchor="middle" dominant-baseline="central" font-size="12.0" font-weight="bold">V</text>
<text class="t" transform="translate(209.4 314.7) scale(0.90 1) rotate(-45)" text-anchor="middle" dominant-baseline="central" font-size="12.0" font-weight="bold">AK</text>
<text class="t" transform="translate(223.5 314.2) scale(0.90 1) rotate(-45)" text-anchor="middle" dominant-baseline="central" font-size="12.0" font-weight="bold">AK</text>
<text class="t" transform="translate(236.9 314.5) scale(0.90 1) rotate(-45)" text-anchor="middle" dominant-baseline="central" font-size="12.0" font-weight="bold">G</text>
<text class="t" transform="translate(352.4 313.8) scale(0.90 1) rotate(-45)" text-anchor="middle" dominant-baseline="central" font-size="12.0" font-weight="bold">AF</text>
<text class="t" transform="translate(364.7 314.3) scale(0.90 1) rotate(-45)" text-anchor="middle" dominant-baseline="central" font-size="12.0" font-weight="bold">G</text>
<text class="t" transform="translate(373.9 293.2) scale(0.90 1) rotate(-45)" text-anchor="middle" dominant-baseline="central" font-size="12.0" font-weight="bold">AF</text>
<text class="t" transform="translate(385.3 294.1) scale(0.90 1) rotate(-45)" text-anchor="middle" dominant-baseline="central" font-size="12.0" font-weight="bold">G</text>
<text class="t" transform="translate(502.2 295.0) scale(0.90 1) rotate(-45)" text-anchor="middle" dominant-baseline="central" font-size="12.0" font-weight="bold">T</text>
<text class="t" transform="translate(602.8 293.9) scale(0.90 1) rotate(-45)" text-anchor="middle" dominant-baseline="central" font-size="12.0" font-weight="bold">V</text>
<text class="t" transform="translate(639.7 293.9) scale(0.90 1) rotate(-45)" text-anchor="middle" dominant-baseline="central" font-size="12.0" font-weight="bold">V</text>
<text class="t" transform="translate(831.7 294.0) scale(0.90 1) rotate(-45)" text-anchor="middle" dominant-baseline="central" font-size="12.0" font-weight="bold">AF</text>
<text class="t" transform="translate(844.2 293.6) scale(0.90 1) rotate(-45)" text-anchor="middle" dominant-baseline="central" font-size="12.0" font-weight="bold">AF</text>
<text class="t" transform="translate(857.1 294.5) scale(0.90 1) rotate(-45)" text-anchor="middle" dominant-baseline="central" font-size="12.0" font-weight="bold">AF</text>
<text class="t" transform="translate(867.3 294.6) scale(0.90 1) rotate(-45)" text-anchor="middle" dominant-baseline="central" font-size="12.0" font-weight="bold">G</text>
<text class="t" transform="translate(915.8 294.2) scale(0.90 1) rotate(-45)" text-anchor="middle" dominant-baseline="central" font-size="12.0" font-weight="bold">AF</text>
<text class="t" transform="translate(846.0 314.1) scale(0.90 1) rotate(-45)" text-anchor="middle" dominant-baseline="central" font-size="12.0" font-weight="bold">AK</text>
<text class="t" transform="translate(858.3 313.3) scale(0.90 1) rotate(-45)" text-anchor="middle" dominant-baseline="central" font-size="12.0" font-weight="bold">L</text>
<text class="t" transform="translate(870.0 313.9) scale(0.90 1) rotate(-45)" text-anchor="middle" dominant-baseline="central" font-size="12.0" font-weight="bold">AF</text>
<text class="t" transform="translate(880.0 315.3) scale(0.90 1) rotate(-45)" text-anchor="middle" dominant-baseline="central" font-size="12.0" font-weight="bold">G</text>
<text class="t" transform="translate(892.2 313.9) scale(0.90 1) rotate(-45)" text-anchor="middle" dominant-baseline="central" font-size="12.0" font-weight="bold">AK</text>
<text class="t" transform="translate(904.1 314.4) scale(0.90 1) rotate(-45)" text-anchor="middle" dominant-baseline="central" font-size="12.0" font-weight="bold">AK</text>
<text class="t" transform="translate(917.1 314.4) scale(0.90 1) rotate(-45)" text-anchor="middle" dominant-baseline="central" font-size="12.0" font-weight="bold">AK</text>
<text class="t" transform="translate(742.9 336.0) scale(0.90 1) rotate(-45)" text-anchor="middle" dominant-baseline="central" font-size="12.0" font-weight="bold">AF</text>
<text class="t" transform="translate(754.0 336.2) scale(0.90 1) rotate(-45)" text-anchor="middle" dominant-baseline="central" font-size="12.0" font-weight="bold">AK</text>
<text class="t" transform="translate(767.4 335.8) scale(0.90 1) rotate(-45)" text-anchor="middle" dominant-baseline="central" font-size="12.0" font-weight="bold">AF</text>
<text class="t" transform="translate(778.4 337.1) scale(0.90 1) rotate(-45)" text-anchor="middle" dominant-baseline="central" font-size="12.0" font-weight="bold">G</text>
<text class="t" transform="translate(789.3 337.1) scale(0.90 1) rotate(-45)" text-anchor="middle" dominant-baseline="central" font-size="12.0" font-weight="bold">V</text>
<text class="t" transform="translate(798.1 337.1) scale(0.90 1) rotate(-45)" text-anchor="middle" dominant-baseline="central" font-size="12.0" font-weight="bold">V</text>
<text class="t" transform="translate(808.0 336.0) scale(0.90 1) rotate(-45)" text-anchor="middle" dominant-baseline="central" font-size="12.0" font-weight="bold">AK</text>
<text class="t" transform="translate(821.8 336.2) scale(0.90 1) rotate(-45)" text-anchor="middle" dominant-baseline="central" font-size="12.0" font-weight="bold">AK</text>
<text class="t" transform="translate(834.3 336.2) scale(0.90 1) rotate(-45)" text-anchor="middle" dominant-baseline="central" font-size="12.0" font-weight="bold">G</text>
<text class="t" transform="translate(845.2 335.6) scale(0.90 1) rotate(-45)" text-anchor="middle" dominant-baseline="central" font-size="12.0" font-weight="bold">L</text>
<text class="t" transform="translate(856.5 335.8) scale(0.90 1) rotate(-45)" text-anchor="middle" dominant-baseline="central" font-size="12.0" font-weight="bold">V</text>
<text class="t" transform="translate(865.0 336.7) scale(0.90 1) rotate(-45)" text-anchor="middle" dominant-baseline="central" font-size="12.0" font-weight="bold">G</text>
<text class="t" transform="translate(875.1 336.7) scale(0.90 1) rotate(-45)" text-anchor="middle" dominant-baseline="central" font-size="12.0" font-weight="bold">G</text>
<text class="t" transform="translate(884.5 336.7) scale(0.90 1) rotate(-45)" text-anchor="middle" dominant-baseline="central" font-size="12.0" font-weight="bold">G</text>
<text class="t" transform="translate(893.8 336.7) scale(0.90 1) rotate(-45)" text-anchor="middle" dominant-baseline="central" font-size="12.0" font-weight="bold">G</text>
<rect x="9.2" y="326.2" width="12.2" height="12.4" fill="url(#mockL)" stroke="#333" stroke-width="0.9"/>
<text transform="matrix(1.0202 0 0 1 29.09 337.50)" font-size="16.00" font-weight="bold" fill="#000">:Mock-inoculated control</text>
<rect x="9.2" y="347.9" width="12.2" height="12.4" fill="#e696aa" stroke="#333" stroke-width="0.9"/>
<text transform="matrix(1.0280 0 0 1 29.08 357.50)" font-size="16.00" font-weight="bold" fill="#000">:EHA105</text>
<rect x="9.2" y="368.8" width="12.2" height="12.4" fill="#000" stroke="#333" stroke-width="0.9"/>
<text transform="matrix(1.0332 0 0 1 29.08 379.90)" font-size="16.00" font-weight="bold" fill="#000">:T3Es</text>
<rect x="9.2" y="390.5" width="12.2" height="12.4" fill="url(#gusL)" stroke="#333" stroke-width="0.9"/>
<text transform="matrix(1.0160 0 0 1 29.10 401.50)" font-size="16.00" font-weight="bold" fill="#000">:Gus</text>
<rect x="9.2" y="421.8" width="12.2" height="12.4" fill="#a020f0" stroke="#333" stroke-width="0.9"/>
<text transform="matrix(1.0185 0 0 1 29.10 431.20)" font-size="16.00" font-weight="bold" fill="#000">:AF (XopAF)</text>
<rect x="9.2" y="443.7" width="12.2" height="12.4" fill="#4a84f4" stroke="#333" stroke-width="0.9"/>
<text transform="matrix(1.0260 0 0 1 29.09 453.00)" font-size="16.00" font-weight="bold" fill="#000">:L (XopL)</text>
<rect x="9.2" y="465.2" width="12.2" height="12.4" fill="#3c30f4" stroke="#333" stroke-width="0.9"/>
<text transform="matrix(1.0244 0 0 1 29.09 474.60)" font-size="16.00" font-weight="bold" fill="#000">:G (XopG)</text>
<rect x="9.2" y="486.9" width="12.2" height="12.4" fill="#dc3452" stroke="#333" stroke-width="0.9"/>
<text transform="matrix(1.0248 0 0 1 29.09 497.00)" font-size="16.00" font-weight="bold" fill="#000">:V (XopV)</text>
<rect x="9.2" y="510.9" width="12.2" height="12.4" fill="#e88c2a" stroke="#333" stroke-width="0.9"/>
<text transform="matrix(1.0308 0 0 1 29.08 521.00)" font-size="16.00" font-weight="bold" fill="#000">:T (XopT)</text>
<rect x="9.2" y="532.6" width="12.2" height="12.4" fill="#fafa3c" stroke="#333" stroke-width="0.9"/>
<text transform="matrix(1.0256 0 0 1 29.09 542.70)" font-size="16.00" font-weight="bold" fill="#000">:AK (XopAK)</text>
<path d="M229 368.1H1063.6" stroke="#000" stroke-width="2.1"/>
<rect x="229" y="510.3" width="834.6" height="7.8" fill="#000"/>
<rect x="229.00" y="518.1" width="24.91" height="12.9" fill="#a020f0"/>
<rect x="253.91" y="518.1" width="62.29" height="12.9" fill="#4a84f4"/>
<rect x="316.20" y="518.1" width="12.46" height="12.9" fill="#a020f0"/>
<rect x="328.66" y="518.1" width="12.46" height="12.9" fill="#3c30f4"/>
<rect x="341.11" y="518.1" width="12.46" height="12.9" fill="#4a84f4"/>
<rect x="353.57" y="518.1" width="12.46" height="12.9" fill="#dc3452"/>
<rect x="366.03" y="518.1" width="37.37" height="12.9" fill="#4a84f4"/>
<rect x="403.40" y="518.1" width="37.37" height="12.9" fill="#a020f0"/>
<rect x="440.77" y="518.1" width="37.37" height="12.9" fill="#4a84f4"/>
<rect x="478.14" y="518.1" width="24.91" height="12.9" fill="#a020f0"/>
<rect x="503.05" y="518.1" width="12.46" height="12.9" fill="#3c30f4"/>
<rect x="515.51" y="518.1" width="24.91" height="12.9" fill="#4a84f4"/>
<rect x="540.42" y="518.1" width="12.46" height="12.9" fill="#a020f0"/>
<rect x="552.88" y="518.1" width="12.46" height="12.9" fill="#4a84f4"/>
<rect x="565.34" y="518.1" width="12.46" height="12.9" fill="#e88c2a"/>
<rect x="577.80" y="518.1" width="12.46" height="12.9" fill="#dc3452"/>
<rect x="590.25" y="518.1" width="12.46" height="12.9" fill="#e88c2a"/>
<rect x="602.71" y="518.1" width="24.91" height="12.9" fill="#dc3452"/>
<rect x="627.62" y="518.1" width="74.74" height="12.9" fill="#e88c2a"/>
<rect x="702.37" y="518.1" width="62.29" height="12.9" fill="#dc3452"/>
<rect x="764.65" y="518.1" width="24.91" height="12.9" fill="#e88c2a"/>
<rect x="789.57" y="518.1" width="87.20" height="12.9" fill="#fafa3c"/>
<rect x="876.76" y="518.1" width="12.46" height="12.9" fill="#3c30f4"/>
<rect x="889.22" y="518.1" width="12.46" height="12.9" fill="#dc3452"/>
<rect x="901.68" y="518.1" width="12.46" height="12.9" fill="#3c30f4"/>
<rect x="914.13" y="518.1" width="12.46" height="12.9" fill="#4a84f4"/>
<rect x="926.59" y="518.1" width="37.37" height="12.9" fill="#3c30f4"/>
<rect x="963.96" y="518.1" width="12.46" height="12.9" fill="#dc3452"/>
<rect x="976.42" y="518.1" width="87.20" height="12.9" fill="#e88c2a"/>
<text class="t" transform="translate(234.7 541.7) scale(0.90 1) rotate(-50)" text-anchor="middle" dominant-baseline="central" font-size="13.0" font-weight="bold">AF</text>
<text class="t" transform="translate(247.2 541.7) scale(0.90 1) rotate(-50)" text-anchor="middle" dominant-baseline="central" font-size="13.0" font-weight="bold">AF</text>
<text class="t" transform="translate(260.1 540.7) scale(0.90 1) rotate(-50)" text-anchor="middle" dominant-baseline="central" font-size="13.0" font-weight="bold">L</text>
<text class="t" transform="translate(272.6 540.7) scale(0.90 1) rotate(-50)" text-anchor="middle" dominant-baseline="central" font-size="13.0" font-weight="bold">L</text>
<text class="t" transform="translate(285.1 540.7) scale(0.90 1) rotate(-50)" text-anchor="middle" dominant-baseline="central" font-size="13.0" font-weight="bold">L</text>
<text class="t" transform="translate(297.5 540.7) scale(0.90 1) rotate(-50)" text-anchor="middle" dominant-baseline="central" font-size="13.0" font-weight="bold">L</text>
<text class="t" transform="translate(310.0 540.7) scale(0.90 1) rotate(-50)" text-anchor="middle" dominant-baseline="central" font-size="13.0" font-weight="bold">L</text>
<text class="t" transform="translate(321.9 541.7) scale(0.90 1) rotate(-50)" text-anchor="middle" dominant-baseline="central" font-size="13.0" font-weight="bold">AF</text>
<text class="t" transform="translate(334.4 540.8) scale(0.90 1) rotate(-50)" text-anchor="middle" dominant-baseline="central" font-size="13.0" font-weight="bold">G</text>
<text class="t" transform="translate(347.3 540.7) scale(0.90 1) rotate(-50)" text-anchor="middle" dominant-baseline="central" font-size="13.0" font-weight="bold">L</text>
<text class="t" transform="translate(360.8 542.3) scale(0.90 1) rotate(-50)" text-anchor="middle" dominant-baseline="central" font-size="13.0" font-weight="bold">V</text>
<text class="t" transform="translate(372.3 540.7) scale(0.90 1) rotate(-50)" text-anchor="middle" dominant-baseline="central" font-size="13.0" font-weight="bold">L</text>
<text class="t" transform="translate(384.7 540.7) scale(0.90 1) rotate(-50)" text-anchor="middle" dominant-baseline="central" font-size="13.0" font-weight="bold">L</text>
<text class="t" transform="translate(397.2 540.7) scale(0.90 1) rotate(-50)" text-anchor="middle" dominant-baseline="central" font-size="13.0" font-weight="bold">L</text>
<text class="t" transform="translate(409.1 541.7) scale(0.90 1) rotate(-50)" text-anchor="middle" dominant-baseline="central" font-size="13.0" font-weight="bold">AF</text>
<text class="t" transform="translate(421.6 541.7) scale(0.90 1) rotate(-50)" text-anchor="middle" dominant-baseline="central" font-size="13.0" font-weight="bold">AF</text>
<text class="t" transform="translate(434.0 541.7) scale(0.90 1) rotate(-50)" text-anchor="middle" dominant-baseline="central" font-size="13.0" font-weight="bold">AF</text>
<text class="t" transform="translate(447.0 540.7) scale(0.90 1) rotate(-50)" text-anchor="middle" dominant-baseline="central" font-size="13.0" font-weight="bold">L</text>
<text class="t" transform="translate(459.5 540.7) scale(0.90 1) rotate(-50)" text-anchor="middle" dominant-baseline="central" font-size="13.0" font-weight="bold">L</text>
<text class="t" transform="translate(471.9 540.7) scale(0.90 1) rotate(-50)" text-anchor="middle" dominant-baseline="central" font-size="13.0" font-weight="bold">L</text>
<text class="t" transform="translate(483.9 541.7) scale(0.90 1) rotate(-50)" text-anchor="middle" dominant-baseline="central" font-size="13.0" font-weight="bold">AF</text>
<text class="t" transform="translate(496.3 541.7) scale(0.90 1) rotate(-50)" text-anchor="middle" dominant-baseline="central" font-size="13.0" font-weight="bold">AF</text>
<text class="t" transform="translate(508.8 540.8) scale(0.90 1) rotate(-50)" text-anchor="middle" dominant-baseline="central" font-size="13.0" font-weight="bold">G</text>
<text class="t" transform="translate(521.7 540.7) scale(0.90 1) rotate(-50)" text-anchor="middle" dominant-baseline="central" font-size="13.0" font-weight="bold">L</text>
<text class="t" transform="translate(534.2 540.7) scale(0.90 1) rotate(-50)" text-anchor="middle" dominant-baseline="central" font-size="13.0" font-weight="bold">L</text>
<text class="t" transform="translate(546.2 541.7) scale(0.90 1) rotate(-50)" text-anchor="middle" dominant-baseline="central" font-size="13.0" font-weight="bold">AF</text>
<text class="t" transform="translate(559.1 540.7) scale(0.90 1) rotate(-50)" text-anchor="middle" dominant-baseline="central" font-size="13.0" font-weight="bold">L</text>
<text class="t" transform="translate(572.1 542.3) scale(0.90 1) rotate(-50)" text-anchor="middle" dominant-baseline="central" font-size="13.0" font-weight="bold">T</text>
<text class="t" transform="translate(585.0 542.3) scale(0.90 1) rotate(-50)" text-anchor="middle" dominant-baseline="central" font-size="13.0" font-weight="bold">V</text>
<text class="t" transform="translate(597.0 542.3) scale(0.90 1) rotate(-50)" text-anchor="middle" dominant-baseline="central" font-size="13.0" font-weight="bold">T</text>
<text class="t" transform="translate(609.9 542.3) scale(0.90 1) rotate(-50)" text-anchor="middle" dominant-baseline="central" font-size="13.0" font-weight="bold">V</text>
<text class="t" transform="translate(622.4 542.3) scale(0.90 1) rotate(-50)" text-anchor="middle" dominant-baseline="central" font-size="13.0" font-weight="bold">V</text>
<text class="t" transform="translate(634.4 542.3) scale(0.90 1) rotate(-50)" text-anchor="middle" dominant-baseline="central" font-size="13.0" font-weight="bold">T</text>
<text class="t" transform="translate(646.8 542.3) scale(0.90 1) rotate(-50)" text-anchor="middle" dominant-baseline="central" font-size="13.0" font-weight="bold">T</text>
<text class="t" transform="translate(659.3 542.3) scale(0.90 1) rotate(-50)" text-anchor="middle" dominant-baseline="central" font-size="13.0" font-weight="bold">T</text>
<text class="t" transform="translate(671.7 542.3) scale(0.90 1) rotate(-50)" text-anchor="middle" dominant-baseline="central" font-size="13.0" font-weight="bold">T</text>
<text class="t" transform="translate(684.2 542.3) scale(0.90 1) rotate(-50)" text-anchor="middle" dominant-baseline="central" font-size="13.0" font-weight="bold">T</text>
<text class="t" transform="translate(696.6 542.3) scale(0.90 1) rotate(-50)" text-anchor="middle" dominant-baseline="central" font-size="13.0" font-weight="bold">T</text>
<text class="t" transform="translate(709.6 542.3) scale(0.90 1) rotate(-50)" text-anchor="middle" dominant-baseline="central" font-size="13.0" font-weight="bold">V</text>
<text class="t" transform="translate(722.1 542.3) scale(0.90 1) rotate(-50)" text-anchor="middle" dominant-baseline="central" font-size="13.0" font-weight="bold">V</text>
<text class="t" transform="translate(734.5 542.3) scale(0.90 1) rotate(-50)" text-anchor="middle" dominant-baseline="central" font-size="13.0" font-weight="bold">V</text>
<text class="t" transform="translate(747.0 542.3) scale(0.90 1) rotate(-50)" text-anchor="middle" dominant-baseline="central" font-size="13.0" font-weight="bold">V</text>
<text class="t" transform="translate(759.4 542.3) scale(0.90 1) rotate(-50)" text-anchor="middle" dominant-baseline="central" font-size="13.0" font-weight="bold">V</text>
<text class="t" transform="translate(771.4 542.3) scale(0.90 1) rotate(-50)" text-anchor="middle" dominant-baseline="central" font-size="13.0" font-weight="bold">T</text>
<text class="t" transform="translate(783.8 542.3) scale(0.90 1) rotate(-50)" text-anchor="middle" dominant-baseline="central" font-size="13.0" font-weight="bold">T</text>
<text class="t" transform="translate(794.8 541.2) scale(0.90 1) rotate(-50)" text-anchor="middle" dominant-baseline="central" font-size="13.0" font-weight="bold">AK</text>
<text class="t" transform="translate(807.3 541.2) scale(0.90 1) rotate(-50)" text-anchor="middle" dominant-baseline="central" font-size="13.0" font-weight="bold">AK</text>
<text class="t" transform="translate(819.7 541.2) scale(0.90 1) rotate(-50)" text-anchor="middle" dominant-baseline="central" font-size="13.0" font-weight="bold">AK</text>
<text class="t" transform="translate(832.2 541.2) scale(0.90 1) rotate(-50)" text-anchor="middle" dominant-baseline="central" font-size="13.0" font-weight="bold">AK</text>
<text class="t" transform="translate(844.6 541.2) scale(0.90 1) rotate(-50)" text-anchor="middle" dominant-baseline="central" font-size="13.0" font-weight="bold">AK</text>
<text class="t" transform="translate(857.1 541.2) scale(0.90 1) rotate(-50)" text-anchor="middle" dominant-baseline="central" font-size="13.0" font-weight="bold">AK</text>
<text class="t" transform="translate(869.5 541.2) scale(0.90 1) rotate(-50)" text-anchor="middle" dominant-baseline="central" font-size="13.0" font-weight="bold">AK</text>
<text class="t" transform="translate(882.5 540.8) scale(0.90 1) rotate(-50)" text-anchor="middle" dominant-baseline="central" font-size="13.0" font-weight="bold">G</text>
<text class="t" transform="translate(896.4 542.3) scale(0.90 1) rotate(-50)" text-anchor="middle" dominant-baseline="central" font-size="13.0" font-weight="bold">V</text>
<text class="t" transform="translate(907.4 540.8) scale(0.90 1) rotate(-50)" text-anchor="middle" dominant-baseline="central" font-size="13.0" font-weight="bold">G</text>
<text class="t" transform="translate(920.4 540.7) scale(0.90 1) rotate(-50)" text-anchor="middle" dominant-baseline="central" font-size="13.0" font-weight="bold">L</text>
<text class="t" transform="translate(932.3 540.8) scale(0.90 1) rotate(-50)" text-anchor="middle" dominant-baseline="central" font-size="13.0" font-weight="bold">G</text>
<text class="t" transform="translate(944.8 540.8) scale(0.90 1) rotate(-50)" text-anchor="middle" dominant-baseline="central" font-size="13.0" font-weight="bold">G</text>
<text class="t" transform="translate(957.2 540.8) scale(0.90 1) rotate(-50)" text-anchor="middle" dominant-baseline="central" font-size="13.0" font-weight="bold">G</text>
<text class="t" transform="translate(971.2 542.3) scale(0.90 1) rotate(-50)" text-anchor="middle" dominant-baseline="central" font-size="13.0" font-weight="bold">V</text>
<text class="t" transform="translate(983.1 542.3) scale(0.90 1) rotate(-50)" text-anchor="middle" dominant-baseline="central" font-size="13.0" font-weight="bold">T</text>
<text class="t" transform="translate(995.6 542.3) scale(0.90 1) rotate(-50)" text-anchor="middle" dominant-baseline="central" font-size="13.0" font-weight="bold">T</text>
<text class="t" transform="translate(1008.1 542.3) scale(0.90 1) rotate(-50)" text-anchor="middle" dominant-baseline="central" font-size="13.0" font-weight="bold">T</text>
<text class="t" transform="translate(1020.5 542.3) scale(0.90 1) rotate(-50)" text-anchor="middle" dominant-baseline="central" font-size="13.0" font-weight="bold">T</text>
<text class="t" transform="translate(1033.0 542.3) scale(0.90 1) rotate(-50)" text-anchor="middle" dominant-baseline="central" font-size="13.0" font-weight="bold">T</text>
<text class="t" transform="translate(1045.4 542.3) scale(0.90 1) rotate(-50)" text-anchor="middle" dominant-baseline="central" font-size="13.0" font-weight="bold">T</text>
<text class="t" transform="translate(1057.9 542.3) scale(0.90 1) rotate(-50)" text-anchor="middle" dominant-baseline="central" font-size="13.0" font-weight="bold">T</text>
<rect x="516.1" y="371.7" width="90.9" height="14.0" fill="#fff" stroke="#333" stroke-width="1"/>
<text transform="matrix(0.9765 0 0 1 520.04 383.60)" font-size="15.54" font-weight="bold" fill="#000" class="s">Cluster 2.2.2</text>
</svg></body></html>
